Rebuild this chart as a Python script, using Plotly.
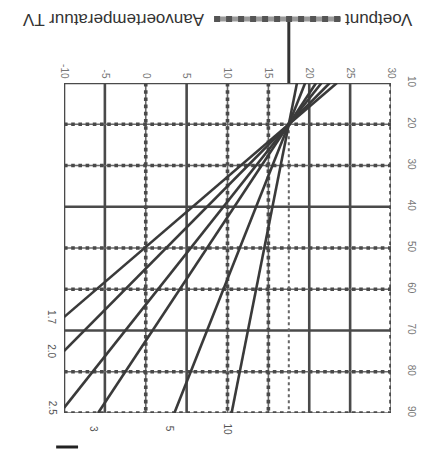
import numpy as np
import plotly.graph_objects as go

# ---- data (chart is shown rotated 180 degrees, as in the scan) ----
OUTDOOR_TICKS = [-10, -5, 0, 5, 10, 15, 20, 25, 30]
OUTDOOR_LABELS = ["-10", "-5", "0", "5", "10", "15", "20", "25", "30"]
FLOW_TICKS = [10, 20, 30, 40, 50, 60, 70, 80, 90]
FLOW_LABELS = ["10", "20", "30", "40", "50", "60", "70", "80", "90"]
FOOT_OUTDOOR = 17.5
FOOT_FLOW = 20
SLOPES = [1.7, 2.0, 2.5, 3.0, 5.0, 10.0]
SLOPE_LABELS = ["1.7", "2.0", "2.5", "3", "5", "10"]
TITLE_LEFT = "Aanvoertemperatuur TV"
TITLE_RIGHT = "Voetpunt"

# ---- styles ----
FONT = "Liberation Sans, Arial, sans-serif"
INK = "#3a3a3a"
GRID = "#4a4a4a"
DOTTED_X = {0, 10, 15, 30}
DOTTED_Y = {20, 30, 50, 60, 80, 90}

X_MIN, X_MAX = OUTDOOR_TICKS[0], OUTDOOR_TICKS[-1]
Y_MIN, Y_MAX = FLOW_TICKS[0], FLOW_TICKS[-1]

fig = go.Figure()

shapes = []
for v in OUTDOOR_TICKS:
    dotted = v in DOTTED_X
    shapes.append(dict(type="line", xref="x", yref="y", x0=v, x1=v, y0=Y_MIN, y1=Y_MAX,
                       layer="below",
                       line=dict(color="#6a6a6a" if dotted else GRID,
                                 width=1.6 if dotted else 2.6)))
    if dotted:
        shapes.append(dict(type="line", xref="x", yref="y", x0=v, x1=v, y0=Y_MIN, y1=Y_MAX,
                           layer="below", line=dict(color=GRID, width=3.6, dash="dot")))
for v in FLOW_TICKS:
    dotted = v in DOTTED_Y
    shapes.append(dict(type="line", xref="x", yref="y", x0=X_MIN, x1=X_MAX, y0=v, y1=v,
                       layer="below",
                       line=dict(color="#6a6a6a" if dotted else GRID,
                                 width=1.6 if dotted else 2.6)))
    if dotted:
        shapes.append(dict(type="line", xref="x", yref="y", x0=X_MIN, x1=X_MAX, y0=v, y1=v,
                           layer="below", line=dict(color=GRID, width=3.6, dash="dot")))

# foot point vertical marker inside the plot
shapes.append(dict(type="line", xref="x", yref="y", x0=FOOT_OUTDOOR, x1=FOOT_OUTDOOR,
                   y0=FOOT_FLOW, y1=Y_MAX, layer="below",
                   line=dict(color="#666", width=2, dash="dot")))
# foot point marker above the plot, up to the legend bar
shapes.append(dict(type="line", xref="x", yref="paper", x0=FOOT_OUTDOOR, x1=FOOT_OUTDOOR,
                   y0=1.0, y1=1.194, line=dict(color="#333", width=3)))
# legend bar
shapes.append(dict(type="line", xref="paper", yref="paper", x0=0.459, x1=0.847,
                   y0=1.194, y1=1.194, line=dict(color="#9a9a9a", width=5)))
shapes.append(dict(type="line", xref="paper", yref="paper", x0=0.459, x1=0.847,
                   y0=1.194, y1=1.194, line=dict(color="#555", width=6, dash="dot")))
# small dash below the chart
shapes.append(dict(type="line", xref="paper", yref="paper", x0=-0.024, x1=0.043,
                   y0=-0.103, y1=-0.103, line=dict(color="#222", width=3)))

annotations = []
for s, lab in zip(SLOPES, SLOPE_LABELS):
    t_start = FOOT_OUTDOOR + (FOOT_FLOW - Y_MIN) / s
    t_end = max(X_MIN, FOOT_OUTDOOR - (Y_MAX - FOOT_FLOW) / s)
    xs = np.array([t_start, t_end])
    ys = FOOT_FLOW + s * (FOOT_OUTDOOR - xs)
    fig.add_trace(go.Scatter(x=xs, y=ys, mode="lines", showlegend=False,
                             line=dict(color=INK, width=2.6), hoverinfo="skip"))
    at_bottom = ys[-1] >= Y_MAX - 1e-6
    annotations.append(dict(x=xs[-1], y=ys[-1], xref="x", yref="y", text=lab,
                            showarrow=False, textangle=90,
                            xshift=-12 if not at_bottom else (-14 if xs[-1] <= X_MIN + 0.5 else -4),
                            yshift=-16 if at_bottom else 0,
                            font=dict(family=FONT, size=10, color="#555")))

annotations.append(dict(xref="paper", yref="paper", x=0.15, y=1.194, text=TITLE_LEFT,
                        showarrow=False, textangle=180, xanchor="center", yanchor="middle",
                        font=dict(family=FONT, size=17, color="#333")))
annotations.append(dict(xref="paper", yref="paper", x=0.962, y=1.194, text=TITLE_RIGHT,
                        showarrow=False, textangle=180, xanchor="center", yanchor="middle",
                        font=dict(family=FONT, size=17, color="#333")))

fig.update_layout(
    width=429, height=449,
    margin=dict(l=56, r=46, t=75, b=44),
    paper_bgcolor="white", plot_bgcolor="white",
    shapes=shapes, annotations=annotations,
    xaxis=dict(range=[X_MIN, X_MAX], side="top", showgrid=False, zeroline=False,
               showline=False, tickmode="array", tickvals=OUTDOOR_TICKS,
               ticktext=OUTDOOR_LABELS, tickangle=90, ticks="", ticklabelstandoff=2,
               tickfont=dict(family=FONT, size=10, color="#777")),
    yaxis=dict(range=[Y_MAX, Y_MIN], side="right", showgrid=False, zeroline=False,
               showline=False, tickmode="array", tickvals=FLOW_TICKS,
               ticktext=FLOW_LABELS, tickangle=90, ticks="", ticklabelstandoff=14,
               tickfont=dict(family=FONT, size=10, color="#777")),
)

fig.write_html("out.html")
